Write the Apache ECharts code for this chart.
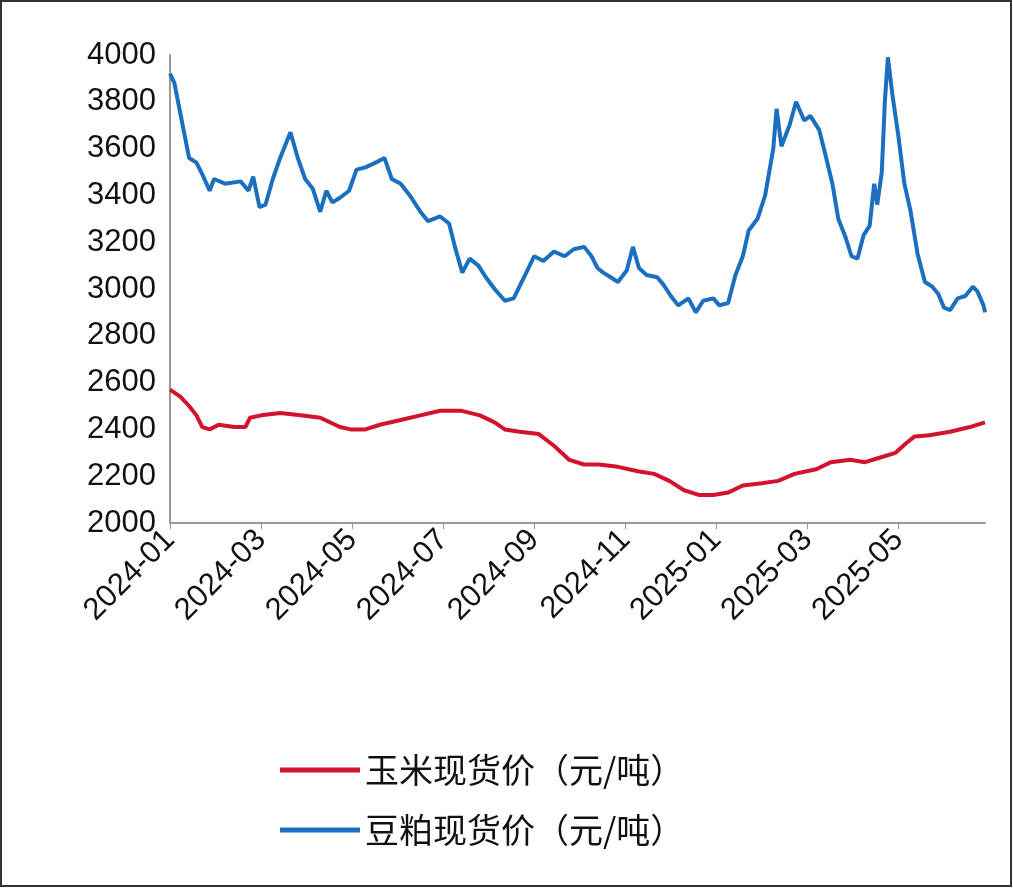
<!DOCTYPE html>
<html><head><meta charset="utf-8">
<script src="https://cdn.jsdelivr.net/npm/echarts@6/dist/echarts.min.js"></script>
<style>html,body{margin:0;padding:0;background:#fff}#c{width:1013px;height:888px}</style>
</head><body><div id="c"></div>
<script>
// day offsets since 2024-01-01 and values
const soyDays = [0,3,8,13,18,22,27,30,37,47,52,55,59,63,68,73,80,85,90,95,100,104,108,113,119,124,130,137,143,148,154,160,167,172,180,186,190,195,200,206,211,217,224,230,237,244,250,257,264,270,277,282,286,290,295,300,306,310,314,319,326,330,335,340,347,352,357,364,368,374,379,384,388,394,399,404,406,409,414,418,423,427,433,437,442,446,451,455,459,463,467,470,472,475,477,479,482,486,490,494,499,504,509,513,517,521,526,531,536,539,543,544];
const soyVals = [3920,3880,3720,3560,3540,3490,3420,3470,3450,3460,3420,3480,3350,3360,3470,3560,3670,3560,3470,3430,3330,3420,3370,3390,3420,3510,3520,3540,3560,3470,3450,3400,3330,3290,3310,3280,3180,3070,3130,3100,3050,3000,2950,2960,3050,3140,3120,3160,3140,3170,3180,3140,3090,3070,3050,3030,3080,3180,3090,3060,3050,3020,2970,2930,2960,2900,2950,2960,2930,2940,3060,3140,3250,3300,3400,3600,3770,3610,3700,3800,3720,3740,3680,3580,3450,3300,3220,3140,3130,3230,3270,3450,3360,3500,3800,3990,3830,3650,3450,3340,3150,3030,3010,2980,2920,2910,2960,2970,3010,2990,2930,2900];
const cornDays = [0,7,13,18,22,27,33,43,50,53,60,73,87,100,113,120,130,140,154,167,180,194,207,217,224,234,247,257,267,277,287,300,314,324,334,344,354,364,374,384,397,407,417,431,441,454,464,474,484,491,497,507,521,534,544];
const cornVals = [2570,2540,2500,2460,2410,2400,2420,2410,2410,2450,2460,2470,2460,2450,2410,2400,2400,2420,2440,2460,2480,2480,2460,2430,2400,2390,2380,2330,2270,2250,2250,2240,2220,2210,2180,2140,2120,2120,2130,2160,2170,2180,2210,2230,2260,2270,2260,2280,2300,2340,2370,2375,2390,2410,2430];
const seriesNames = ['玉米现货价（元/吨）','豆粕现货价（元/吨）'];
const yTicks = {min:2000,max:4000,interval:200};

function toMonth(d){
  const dt = new Date(Date.UTC(2024,0,1) + d*86400000);
  const y = dt.getUTCFullYear(), m = dt.getUTCMonth();
  const dim = new Date(Date.UTC(y,m+1,0)).getUTCDate();
  return (y-2024)*12 + m + (dt.getUTCDate()-1)/dim;
}
const pts = (ds,vs)=>ds.map((d,i)=>[toMonth(d),vs[i]]);
const chart = echarts.init(document.getElementById('c'));
chart.setOption({
  backgroundColor:'#fff',
  animation:false,
  graphic:[{type:'rect',shape:{x:1,y:1,width:1010,height:885},style:{fill:'none',stroke:'#333',lineWidth:2}}],
  grid:{left:170,right:28,top:55,bottom:365},
  xAxis:{type:'value',min:0,max:toMonth(544),interval:2,
    axisLine:{lineStyle:{color:'#999',width:2}},axisTick:{show:true,length:6,lineStyle:{color:'#999'}},splitLine:{show:false},
    axisLabel:{rotate:45,fontSize:31,color:'#111',fontFamily:'Liberation Sans',margin:12,showMaxLabel:false,
      formatter:v=>{const y=2024+Math.floor(v/12);const m=Math.round(v%12)+1;return y+'-'+String(m).padStart(2,'0');}}},
  yAxis:{type:'value',min:yTicks.min,max:yTicks.max,interval:yTicks.interval,
    axisLine:{show:true,lineStyle:{color:'#999',width:2}},axisTick:{show:false},splitLine:{show:false},
    axisLabel:{fontSize:31,color:'#111',fontFamily:'Liberation Sans',margin:14,formatter:v=>String(v)}},
  legend:{orient:'vertical',left:275,top:748,itemGap:26,itemWidth:80,itemHeight:5,
    textStyle:{fontSize:34,color:'#111',fontFamily:'Noto Sans CJK SC'},
    data:seriesNames.map(n=>({name:n,icon:'rect'}))},
  series:[
    {name:seriesNames[0],type:'line',data:pts(cornDays,cornVals),showSymbol:false,lineStyle:{width:4,color:'#d2122e'},itemStyle:{color:'#d2122e'}},
    {name:seriesNames[1],type:'line',data:pts(soyDays,soyVals),showSymbol:false,lineStyle:{width:4,color:'#1a6fbf'},itemStyle:{color:'#1a6fbf'}}
  ]
});
</script></body></html>
